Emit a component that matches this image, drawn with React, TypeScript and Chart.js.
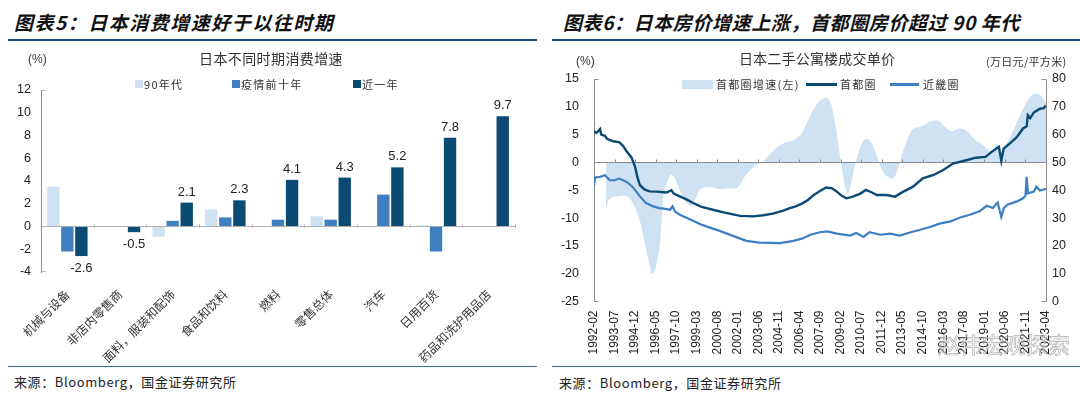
import React, { useEffect, useRef } from "react";
import { Chart, registerables } from "chart.js";

Chart.register(...registerables);

const CJK = '"Noto Sans CJK SC", "Noto Sans", sans-serif';
const LAT = '"Liberation Sans", Arial, sans-serif';

// ---------------- Left chart (图表5) ----------------
const consumptionCategories = [
  "机械与设备",
  "非店内零售商",
  "面料，服装和配饰",
  "食品和饮料",
  "燃料",
  "零售总体",
  "汽车",
  "日用百货",
  "药品和洗护用品店",
];
const consumptionSeriesNames = ["90年代", "疫情前十年", "近一年"];
const growth1990s = [3.5, null, -0.9, 1.5, null, 0.9, 0.05, 0.1, null];
const growthPreCovid = [-2.2, null, 0.5, 0.8, 0.6, 0.6, 2.8, -2.2, null];
const growthRecentYear = [-2.6, -0.5, 2.1, 2.3, 4.1, 4.3, 5.2, 7.8, 9.7];
const consumptionAxis = [-4, 12, 2];
const consumptionColors = ["#cfe2f3", "#4080c2", "#0b4a72"];

// ---------------- Right chart (图表6) ----------------
const houseSeriesNames = ["首都圈增速(左)", "首都圈", "近畿圈"];
const houseColors = ["#cfe2f3", "#0b4a72", "#3d7fc3"];
const houseFirstMonth = "1992-02";
const houseLastMonth = "2023-04";
const houseTickEveryMonths = 17;
const houseLeftAxis = [-25, 15, 5];
const houseRightAxis = [0, 80, 10];

const capitalGrowthDates = [
  "1992-12", "1993-01", "1993-04", "1993-10", "1994-04", "1994-08", "1994-12", "1995-04",
  "1995-07", "1995-11", "1996-02", "1996-05", "1996-09", "1996-11", "1997-03", "1997-06",
  "1997-08", "1998-01", "1998-06", "1998-10", "1999-02", "1999-06", "2000-01", "2000-11",
  "2001-06", "2001-12", "2002-07", "2003-02", "2003-10", "2004-08", "2005-04", "2005-11",
  "2006-06", "2006-12", "2007-05", "2007-10", "2008-02", "2008-06", "2008-10", "2009-02",
  "2009-06", "2009-08", "2009-11", "2010-03", "2010-08", "2010-12", "2011-04", "2011-08",
  "2011-12", "2012-05", "2012-09", "2013-01", "2013-05", "2013-09", "2014-02", "2014-08",
  "2015-04", "2015-10", "2016-04", "2016-10", "2017-04", "2017-10", "2018-04", "2018-12",
  "2019-07", "2019-11", "2020-03", "2020-07", "2021-02", "2021-09", "2022-03", "2022-08",
  "2022-12", "2023-04",
];
const capitalGrowthValues = [
  -9.0, -7.5, -6.4, -6.1, -6.0, -6.6, -8.2, -10.5,
  -13.5, -17.5, -20.0, -19.0, -13.6, -7.1, -3.2, -2.2,
  -2.5, -5.0, -7.0, -7.8, -6.5, -4.8, -4.4, -4.8,
  -4.7, -4.6, -2.5, -0.8, 0.2, 2.5, 3.6, 4.0,
  5.3, 8.0, 10.0, 11.3, 11.6, 10.6, 6.5, 0.5,
  -4.5, -5.6, -3.5, 0.5, 3.6, 4.2, 3.4, 1.2,
  -1.2, -2.6, -2.9, -1.5, 1.5, 4.0, 6.0, 6.4,
  7.3, 7.6, 6.5, 5.6, 6.1, 5.8, 4.3, 3.1,
  1.9, 3.4, 1.9, 3.2, 6.3, 9.6, 11.8, 12.4,
  12.0, 10.7,
];

const capitalPriceDates = [
  "1992-02", "1992-04", "1992-07", "1992-08", "1992-11", "1993-01", "1993-06", "1993-11",
  "1994-02", "1994-05", "1994-09", "1994-12", "1995-02", "1995-04", "1995-08", "1995-12",
  "1996-06", "1997-02", "1997-06", "1997-08", "1998-01", "1998-06", "1998-12", "1999-06",
  "1999-11", "2000-06", "2001-04", "2002-03", "2003-02", "2003-10", "2004-06", "2005-02",
  "2005-08", "2006-01", "2006-06", "2006-11", "2007-03", "2007-08", "2008-02", "2008-07",
  "2008-11", "2009-03", "2009-07", "2009-12", "2010-06", "2010-11", "2011-04", "2011-08",
  "2012-04", "2012-11", "2013-06", "2014-02", "2014-10", "2015-07", "2016-03", "2016-11",
  "2017-10", "2018-06", "2019-02", "2019-07", "2019-11", "2020-01", "2020-03", "2020-05",
  "2020-10", "2021-04", "2021-09", "2021-12", "2022-01", "2022-03", "2022-06", "2022-11",
  "2023-02", "2023-04",
];
const capitalPriceValues = [
  61.2, 60.6, 62.0, 60.0, 59.6, 58.4, 57.6, 57.2,
  56.0, 54.0, 51.8, 48.4, 44.5, 41.8, 40.2, 39.6,
  39.5, 39.2, 40.0, 38.8, 37.8, 36.8, 35.4, 34.2,
  33.6, 32.8, 31.8, 30.8, 30.6, 31.0, 31.6, 32.6,
  33.6, 34.2, 35.2, 36.5, 38.0, 39.5, 41.0, 40.7,
  39.5, 38.0, 37.1, 37.7, 38.7, 40.1, 39.2, 38.3,
  38.3, 37.7, 39.5, 41.3, 44.3, 45.5, 47.3, 49.6,
  50.8, 51.7, 52.0, 53.8, 55.0, 55.6, 50.6, 55.0,
  56.8, 59.2, 62.2, 63.0, 67.0, 66.0, 68.0, 69.3,
  69.5, 70.4,
];

const kinkiPriceDates = [
  "1992-02", "1992-03", "1992-07", "1992-11", "1993-03", "1993-07", "1993-11", "1994-05",
  "1994-10", "1995-01", "1995-04", "1995-09", "1996-01", "1996-03", "1996-08", "1996-12",
  "1997-05", "1997-07", "1997-09", "1998-01", "1998-06", "1998-12", "1999-06", "1999-11",
  "2000-10", "2001-09", "2002-08", "2003-07", "2004-12", "2005-11", "2006-06", "2007-01",
  "2007-09", "2008-03", "2008-11", "2009-10", "2010-03", "2010-09", "2011-02", "2011-11",
  "2012-07", "2013-03", "2013-12", "2014-08", "2015-04", "2015-12", "2016-09", "2017-05",
  "2018-01", "2018-09", "2019-03", "2019-08", "2019-12", "2020-03", "2020-05", "2020-08",
  "2021-04", "2021-09", "2021-11", "2021-12", "2022-01", "2022-06", "2022-08", "2022-11",
  "2023-04",
];
const kinkiPriceValues = [
  41.8, 44.6, 44.8, 45.4, 43.6, 43.6, 44.2, 43.0,
  41.2, 39.5, 37.8, 35.4, 34.6, 34.2, 33.6, 33.4,
  33.0, 34.2, 32.4, 31.2, 30.2, 29.0, 27.8, 27.0,
  25.4, 23.6, 21.8, 21.2, 21.0, 21.8, 22.6, 24.0,
  24.9, 25.2, 24.4, 23.7, 24.6, 23.2, 24.9, 24.0,
  24.4, 23.7, 24.9, 25.8, 26.8, 28.0, 28.8, 30.2,
  31.2, 32.4, 34.4, 33.6, 35.6, 30.4, 33.5, 34.8,
  36.0, 37.1, 38.0, 44.8, 38.9, 39.5, 41.3, 39.9,
  40.5,
];

const monthIndex = (s: string) => {
  const [y, m] = s.split("-").map(Number);
  const [y0, m0] = houseFirstMonth.split("-").map(Number);
  return (y - y0) * 12 + (m - m0);
};
const monthLabel = (i: number) => {
  const [y0, m0] = houseFirstMonth.split("-").map(Number);
  const t = y0 * 12 + (m0 - 1) + Math.round(i);
  const y = Math.floor(t / 12);
  const m = (t % 12) + 1;
  return `${y}-${String(m).padStart(2, "0")}`;
};
const toPoints = (dates: string[], values: number[]) =>
  dates.map((d, i) => ({ x: monthIndex(d), y: values[i] }));

// ---------------- plugins ----------------
const barValueLabels = {
  id: "barValueLabels",
  afterDatasetsDraw(chart: any) {
    const meta = chart.getDatasetMeta(2);
    const ctx = chart.ctx;
    ctx.save();
    ctx.font = `13px ${LAT}`;
    ctx.fillStyle = "#222";
    ctx.textAlign = "center";
    meta.data.forEach((bar: any, i: number) => {
      const v = growthRecentYear[i];
      if (v == null) return;
      if (v >= 0) {
        ctx.textBaseline = "bottom";
        ctx.fillText(v.toFixed(1), bar.x, bar.y - 4);
      } else {
        ctx.textBaseline = "top";
        ctx.fillText(v.toFixed(1), bar.x, bar.y + 6);
      }
    });
    ctx.restore();
  },
};

const consumptionMarks = {
  id: "consumptionMarks",
  afterDatasetsDraw(chart: any) {
    const { ctx } = chart;
    const xs = chart.scales.x;
    const ys = chart.scales.y;
    const y0 = Math.round(ys.getPixelForValue(0)) + 0.5;
    const n = consumptionCategories.length;
    const w = (xs.right - xs.left) / n;
    ctx.save();
    ctx.strokeStyle = "#b0b0b0";
    ctx.lineWidth = 1;
    ctx.beginPath();
    for (let i = 1; i <= n; i++) {
      const px = Math.round(xs.left + i * w) + 0.5;
      ctx.moveTo(px, y0);
      ctx.lineTo(px, y0 - 3);
    }
    const lx = Math.round(ys.right) + 0.5;
    ctx.moveTo(lx, Math.round(ys.top) + 0.5);
    ctx.lineTo(lx + 4, Math.round(ys.top) + 0.5);
    ctx.moveTo(lx, Math.round(ys.bottom) - 0.5);
    ctx.lineTo(lx + 4, Math.round(ys.bottom) - 0.5);
    ctx.stroke();
    ctx.restore();
  },
};

const houseMarks = {
  id: "houseMarks",
  beforeDatasetDraw(chart: any, args: any) {
    if (args.index !== 1) return;
    const { ctx } = chart;
    const xs = chart.scales.x;
    const yl = chart.scales.yL;
    const y0 = Math.round(yl.getPixelForValue(0)) + 0.5;
    ctx.save();
    ctx.strokeStyle = "#8c8c8c";
    ctx.lineWidth = 1;
    ctx.beginPath();
    ctx.moveTo(xs.left, y0);
    ctx.lineTo(xs.right, y0);
    xs.ticks.forEach((t: any) => {
      const px = Math.round(xs.getPixelForValue(t.value)) + 0.5;
      ctx.moveTo(px, y0);
      ctx.lineTo(px, y0 - 3);
    });
    ctx.stroke();
    ctx.restore();
  },
  afterDraw(chart: any) {
    const { ctx, chartArea } = chart;
    ctx.save();
    ctx.strokeStyle = "#8c8c8c";
    ctx.lineWidth = 1;
    ctx.beginPath();
    const l = Math.round(chartArea.left) + 0.5;
    const r = Math.round(chartArea.right) - 0.5;
    const t = Math.round(chartArea.top) + 0.5;
    const b = Math.round(chartArea.bottom) - 0.5;
    ctx.moveTo(l, t); ctx.lineTo(l + 4, t);
    ctx.moveTo(l, b); ctx.lineTo(l + 4, b);
    ctx.moveTo(r, t); ctx.lineTo(r - 4, t);
    ctx.moveTo(r, b); ctx.lineTo(r - 4, b);
    ctx.stroke();
    ctx.restore();
  },
};

// ---------------- text helper ----------------
function Txt(props: {
  x: number; y: number; size: number; children: React.ReactNode;
  family?: string; weight?: number; italic?: boolean; color?: string; ls?: number; center?: boolean;
}) {
  const { x, y, size, children, family = CJK, weight = 400, italic = false, color = "#333", ls = 0, center = false } = props;
  return (
    <div
      style={{
        position: "absolute", left: x, top: y,
        transform: `translate(${center ? "-50%" : "0"}, -50%)`,
        fontSize: size, fontFamily: family, fontWeight: weight,
        fontStyle: italic ? "italic" : "normal", color, letterSpacing: ls,
        whiteSpace: "nowrap", lineHeight: 1,
      }}
    >
      {children}
    </div>
  );
}

function Box(props: { x: number; y: number; w: number; h: number; c: string }) {
  return <div style={{ position: "absolute", left: props.x, top: props.y, width: props.w, height: props.h, background: props.c }} />;
}

export default function App() {
  const leftRef = useRef<HTMLCanvasElement>(null);
  const rightRef = useRef<HTMLCanvasElement>(null);

  useEffect(() => {
    const left = new Chart(leftRef.current as HTMLCanvasElement, {
      type: "bar",
      data: {
        labels: consumptionCategories,
        datasets: [growth1990s, growthPreCovid, growthRecentYear].map((d, i) => ({
          label: consumptionSeriesNames[i],
          data: d as any,
          backgroundColor: consumptionColors[i],
          borderWidth: 0,
          categoryPercentage: 0.8,
          barPercentage: 0.88,
        })),
      },
      options: {
        responsive: false,
        animation: false,
        devicePixelRatio: 1,
        layout: { padding: { left: 0, right: 25, top: 50, bottom: 0 } },
        plugins: { legend: { display: false }, tooltip: { enabled: false } },
        scales: {
          x: {
            grid: { display: false },
            border: { display: false },
            ticks: {
              autoSkip: false, minRotation: 45, maxRotation: 45, padding: 7,
              color: "#333", font: { family: CJK, size: 12 },
            },
            afterFit(s: any) { s.height = 93; s.paddingLeft = 0; s.paddingRight = 0; },
          },
          y: {
            min: consumptionAxis[0], max: consumptionAxis[1],
            ticks: { stepSize: consumptionAxis[2], padding: 10, color: "#222", font: { family: LAT, size: 12.5 } },
            grid: {
              drawTicks: false,
              color: (ctx: any) => (ctx.tick && ctx.tick.value === 0 ? "#b0b0b0" : "rgba(0,0,0,0)"),
            },
            border: { color: "#8c8c8c" },
            afterFit(s: any) { s.width = 41; },
          },
        },
      } as any,
      plugins: [barValueLabels, consumptionMarks],
    });

    const right = new Chart(rightRef.current as HTMLCanvasElement, {
      type: "line",
      data: {
        datasets: [
          {
            label: houseSeriesNames[1],
            data: toPoints(capitalPriceDates, capitalPriceValues),
            borderColor: houseColors[1], borderWidth: 2.4, pointRadius: 0, yAxisID: "yR", fill: false,
          },
          {
            label: houseSeriesNames[2],
            data: toPoints(kinkiPriceDates, kinkiPriceValues),
            borderColor: houseColors[2], borderWidth: 2.2, pointRadius: 0, yAxisID: "yR", fill: false,
          },
          {
            label: houseSeriesNames[0],
            data: toPoints(capitalGrowthDates, capitalGrowthValues),
            borderWidth: 0, borderColor: houseColors[0], backgroundColor: houseColors[0],
            pointRadius: 0, yAxisID: "yL", fill: "origin", cubicInterpolationMode: "monotone",
          },
        ],
      },
      options: {
        responsive: false,
        animation: false,
        devicePixelRatio: 1,
        layout: { padding: { left: 0, right: 0, top: 39, bottom: 0 } },
        plugins: { legend: { display: false }, tooltip: { enabled: false } },
        scales: {
          x: {
            type: "linear",
            min: monthIndex(houseFirstMonth),
            max: monthIndex(houseLastMonth),
            grid: { display: false, drawTicks: false },
            border: { display: false },
            ticks: {
              stepSize: houseTickEveryMonths, autoSkip: false, minRotation: 90, maxRotation: 90,
              padding: 9, color: "#222", font: { family: LAT, size: 12 },
              callback: (v: any) => monthLabel(Number(v)),
            },
            afterFit(s: any) { s.height = 63.5; s.paddingLeft = 0; s.paddingRight = 0; },
          },
          yL: {
            position: "left",
            min: houseLeftAxis[0], max: houseLeftAxis[1],
            ticks: { stepSize: houseLeftAxis[2], padding: 15, color: "#222", font: { family: LAT, size: 12.5 } },
            grid: { display: false, drawTicks: false },
            border: { color: "#8c8c8c" },
            afterFit(s: any) { s.width = 54; },
          },
          yR: {
            position: "right",
            min: houseRightAxis[0], max: houseRightAxis[1],
            ticks: { stepSize: houseRightAxis[2], padding: 6, color: "#222", font: { family: LAT, size: 12.5 } },
            grid: { display: false, drawTicks: false },
            border: { color: "#8c8c8c" },
            afterFit(s: any) { s.width = 34; },
          },
        },
      } as any,
      plugins: [houseMarks],
    });

    return () => {
      left.destroy();
      right.destroy();
    };
  }, []);

  const legendText = { size: 11, ls: 1.3, color: "#333" };

  return (
    <div style={{ position: "absolute", left: 0, top: 0, width: 1080, height: 397, background: "#fff", overflow: "hidden" }}>
      {/* ---------- left panel ---------- */}
      <Txt x={14} y={21} size={19} weight={700} italic color="#111" ls={1.5}>图表5：日本消费增速好于以往时期</Txt>
      <Box x={8} y={39} w={529} h={1.5} c="#1f4e79" />
      <canvas ref={leftRef} width={540} height={325} style={{ position: "absolute", left: 0, top: 40 }} />
      <Txt x={28} y={59} size={12} family={LAT}>(%)</Txt>
      <Txt x={271} y={58} size={14} center ls={0.4}>日本不同时期消费增速</Txt>
      <Box x={135} y={80} w={8} h={8} c={consumptionColors[0]} />
      <Txt x={144} y={84} {...legendText}>{consumptionSeriesNames[0]}</Txt>
      <Box x={232} y={80} w={8} h={8} c={consumptionColors[1]} />
      <Txt x={241} y={84} {...legendText}>{consumptionSeriesNames[1]}</Txt>
      <Box x={353} y={80} w={8} h={8} c={consumptionColors[2]} />
      <Txt x={362} y={84} {...legendText}>{consumptionSeriesNames[2]}</Txt>
      <Box x={8} y={366} w={529} h={1} c="#3a6e9e" />
      <Txt x={14} y={381} size={13} color="#222" ls={0.6}>来源：Bloomberg，国金证券研究所</Txt>

      {/* ---------- right panel ---------- */}
      <Txt x={563} y={21} size={19} weight={700} italic color="#111" ls={0.6}>图表6：日本房价增速上涨，首都圈房价超过 90 年代</Txt>
      <Box x={552} y={39} w={528} h={1.5} c="#1f4e79" />
      <canvas ref={rightRef} width={540} height={325} style={{ position: "absolute", left: 540, top: 40 }} />
      <Txt x={576} y={61} size={12} family={LAT}>(%)</Txt>
      <Txt x={817} y={58} size={14} center ls={0.2}>日本二手公寓楼成交单价</Txt>
      <Txt x={986} y={61} size={11} ls={0.3}>(万日元/平方米)</Txt>
      <Box x={682} y={80} w={31} h={9} c={houseColors[0]} />
      <Txt x={716} y={84} {...legendText}>{houseSeriesNames[0]}</Txt>
      <Box x={806} y={83} w={31} h={3} c={houseColors[1]} />
      <Txt x={840} y={84} {...legendText}>{houseSeriesNames[1]}</Txt>
      <Box x={890} y={83} w={29} h={3} c={houseColors[2]} />
      <Txt x={923} y={84} {...legendText}>{houseSeriesNames[2]}</Txt>
      <Box x={552} y={366} w={528} h={1} c="#3a6e9e" />
      <Txt x={559} y={382} size={13} color="#222" ls={0.6}>来源：Bloomberg，国金证券研究所</Txt>

      {/* watermark */}
      <div
        style={{
          position: "absolute", left: 938, top: 343, transform: "translateY(-50%)",
          fontSize: 22, fontFamily: CJK, color: "rgba(255,255,255,0.55)",
          WebkitTextStroke: "0.7px rgba(110,110,110,0.55)", whiteSpace: "nowrap", lineHeight: 1,
        }}
      >
        赵伟宏观探索
      </div>
    </div>
  );
}
